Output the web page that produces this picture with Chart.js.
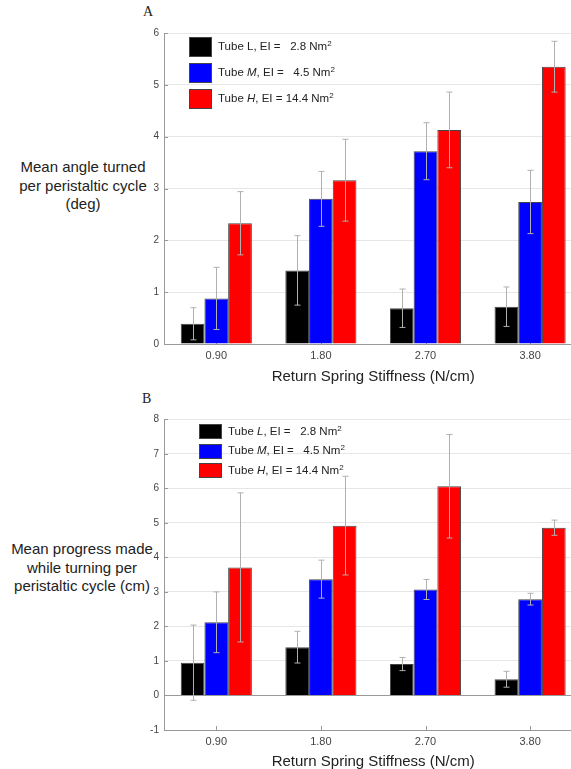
<!DOCTYPE html>
<html lang="en">
<head>
  <meta charset="utf-8" />
  <title>Return spring stiffness comparison</title>
  <script src="https://cdn.jsdelivr.net/npm/chart.js@4.4.1/dist/chart.umd.min.js"></script>
  <style>
    html, body { margin: 0; padding: 0; overflow: hidden; background: #fff; width: 571px; height: 769px; }
    #page { position: relative; width: 571px; height: 769px; overflow: hidden; font-family: "Liberation Sans", Arial, sans-serif; color: #222; }
    .panel { position: absolute; left: 0; width: 590px; height: 390px; }
    .tag { position: absolute; font-family: "Liberation Serif", "Times New Roman", serif; font-size: 14px; color: #222; }
    .ytitle { position: absolute; width: 160px; text-align: center; font-size: 15px; line-height: 18.5px; color: #222; }
    .legend { position: absolute; font-size: 11.5px; color: #222; }
    .legend .sw { position: absolute; left: 0; border: 1px solid #444; box-sizing: border-box; }
    .legend .tx { position: absolute; white-space: pre; }
    .legend sup { font-size: 8px; vertical-align: 0; position: relative; top: -4px; }
  </style>
</head>
<body>
<div id="page">

<div class="tag" style="left:143px; top:4px;">A</div>
<div class="ytitle" style="left:3px; top:158px;">Mean angle turned<br>per peristaltic cycle<br>(deg)</div>
<div class="panel" style="top:0;"><canvas id="chartA" width="590" height="390"></canvas></div>

<div class="tag" style="left:142px; top:391px;">B</div>
<div class="ytitle" style="left:2px; top:540px;">Mean progress made<br>while turning per<br>peristaltic cycle (cm)</div>
<div class="panel" style="top:390px;"><canvas id="chartB" width="590" height="390"></canvas></div>

<div class="legend" id="legendA" style="left:189px; top:37px;"></div>
<div class="legend" id="legendB" style="left:199px; top:424px;"></div>

</div>

<script>
// categories (return spring stiffness, N/cm)
const categories = ['0.90', '1.80', '2.70', '3.80'];

// panel A: mean angle turned per peristaltic cycle (deg), +/- error
const angleL = [0.39, 1.42, 0.69, 0.72];
const angleM = [0.88, 2.80, 3.72, 2.74];
const angleH = [2.33, 3.16, 4.13, 5.35];
const angleErrL = [0.31, 0.67, 0.37, 0.38];
const angleErrM = [0.60, 0.53, 0.55, 0.61];
const angleErrH = [0.61, 0.79, 0.73, 0.49];

// panel B: mean progress made while turning per peristaltic cycle (cm), +/- error
const progL = [0.95, 1.40, 0.91, 0.47];
const progM = [2.12, 3.37, 3.07, 2.79];
const progH = [3.71, 4.92, 6.06, 4.86];
const progErrL = [1.09, 0.46, 0.19, 0.23];
const progErrM = [0.88, 0.55, 0.29, 0.17];
const progErrH = [2.16, 1.43, 1.50, 0.22];

const tubeNames = ['L', 'M', 'H'];
const tubeEI = ['  2.8', '  4.5', '14.4'];
const tubeColors = ['#000000', '#0000ff', '#ff0000'];

// error bars drawn from each dataset's errors array
const errorBars = {
  id: 'errorBars',
  afterDatasetsDraw(chart) {
    const ctx = chart.ctx;
    const y = chart.scales.y;
    ctx.save();
    ctx.strokeStyle = '#b0b0b0';
    ctx.lineWidth = 1;
    chart.data.datasets.forEach((ds, i) => {
      const meta = chart.getDatasetMeta(i);
      meta.data.forEach((bar, j) => {
        const v = ds.data[j], e = ds.errors[j];
        const x = Math.round(bar.x) + 0.5;
        const yHi = y.getPixelForValue(v + e);
        const yLo = y.getPixelForValue(v - e);
        ctx.beginPath();
        ctx.moveTo(x, yHi); ctx.lineTo(x, yLo);
        ctx.moveTo(x - 3, yHi); ctx.lineTo(x + 3, yHi);
        ctx.moveTo(x - 3, yLo); ctx.lineTo(x + 3, yLo);
        ctx.stroke();
      });
    });
    ctx.restore();
  }
};

// small inward tick marks, like the original plot
const innerTicks = {
  id: 'innerTicks',
  beforeDatasetsDraw(chart) {
    const ctx = chart.ctx;
    const { left, bottom } = chart.chartArea;
    ctx.save();
    ctx.strokeStyle = '#999999';
    ctx.lineWidth = 1;
    ctx.beginPath();
    chart.scales.y.ticks.forEach((t, i) => {
      const py = Math.round(chart.scales.y.getPixelForTick(i)) + 0.5;
      ctx.moveTo(left, py); ctx.lineTo(left + 4, py);
    });
    chart.scales.x.ticks.forEach((t, i) => {
      const px = Math.round(chart.scales.x.getPixelForTick(i)) + 0.5;
      ctx.moveTo(px, bottom); ctx.lineTo(px, bottom - 4);
    });
    ctx.stroke();
    ctx.restore();
  }
};

function makeChart(id, series, errs, yMin, yMax, padTop, xHeight, titlePadBottom) {
  return new Chart(document.getElementById(id), {
    type: 'bar',
    data: {
      labels: categories,
      datasets: series.map((s, i) => ({
        label: 'Tube ' + tubeNames[i],
        data: s,
        errors: errs[i],
        backgroundColor: tubeColors[i],
        borderColor: '#444444',
        borderWidth: 1,
        barPercentage: 1.0,
        categoryPercentage: 0.68
      }))
    },
    options: {
      responsive: false,
      animation: false,
      layout: { padding: { left: 130, right: 7.6, top: padTop, bottom: 0 } },
      plugins: { legend: { display: false }, tooltip: { enabled: false } },
      scales: {
        x: {
          offset: true,
          grid: { display: false, drawTicks: false },
          border: { color: '#999999' },
          ticks: { color: '#444', font: { family: 'Liberation Sans', size: 11 }, padding: 5 },
          title: {
            display: true,
            text: 'Return Spring Stiffness (N/cm)',
            color: '#222',
            font: { family: 'Liberation Sans', size: 15 },
            padding: { top: 0, bottom: titlePadBottom }
          },
          afterFit: s => { s.height = xHeight; }
        },
        y: {
          min: yMin,
          max: yMax,
          ticks: { stepSize: 1, color: '#444', font: { family: 'Liberation Sans', size: 10 }, padding: 5 },
          grid: {
            drawTicks: false,
            color: c => (c.tick && c.tick.value === 0 ? '#999999' : '#e6e6e6')
          },
          border: { color: '#999999' },
          afterFit: s => { s.width = 34; }
        }
      }
    },
    plugins: [innerTicks, errorBars]
  });
}

makeChart('chartA', [angleL, angleM, angleH], [angleErrL, angleErrM, angleErrH], 0, 6, 33, 46, 4);
makeChart('chartB', [progL, progM, progH], [progErrL, progErrM, progErrH], -1, 8, 29.3, 50, 9);

// legends with italic tube letters and superscript units
function buildLegend(elId, rowStep, swH, italicL) {
  const el = document.getElementById(elId);
  tubeNames.forEach((n, i) => {
    const sw = document.createElement('div');
    sw.className = 'sw';
    sw.style.top = (i * rowStep) + 'px';
    sw.style.width = '23px';
    sw.style.height = swH + 'px';
    sw.style.background = tubeColors[i];
    el.appendChild(sw);
    const tx = document.createElement('div');
    tx.className = 'tx';
    tx.style.left = '29px';
    tx.style.top = (i * rowStep + swH / 2 - 7) + 'px';
    const letter = (i === 0 && !italicL) ? n : '<i>' + n + '</i>';
    tx.innerHTML = 'Tube ' + letter + ', EI = ' + tubeEI[i] + ' Nm<sup>2</sup>';
    el.appendChild(tx);
  });
}
buildLegend('legendA', 26, 20, false);
buildLegend('legendB', 19.5, 15, true);
</script>

</body>
</html>
